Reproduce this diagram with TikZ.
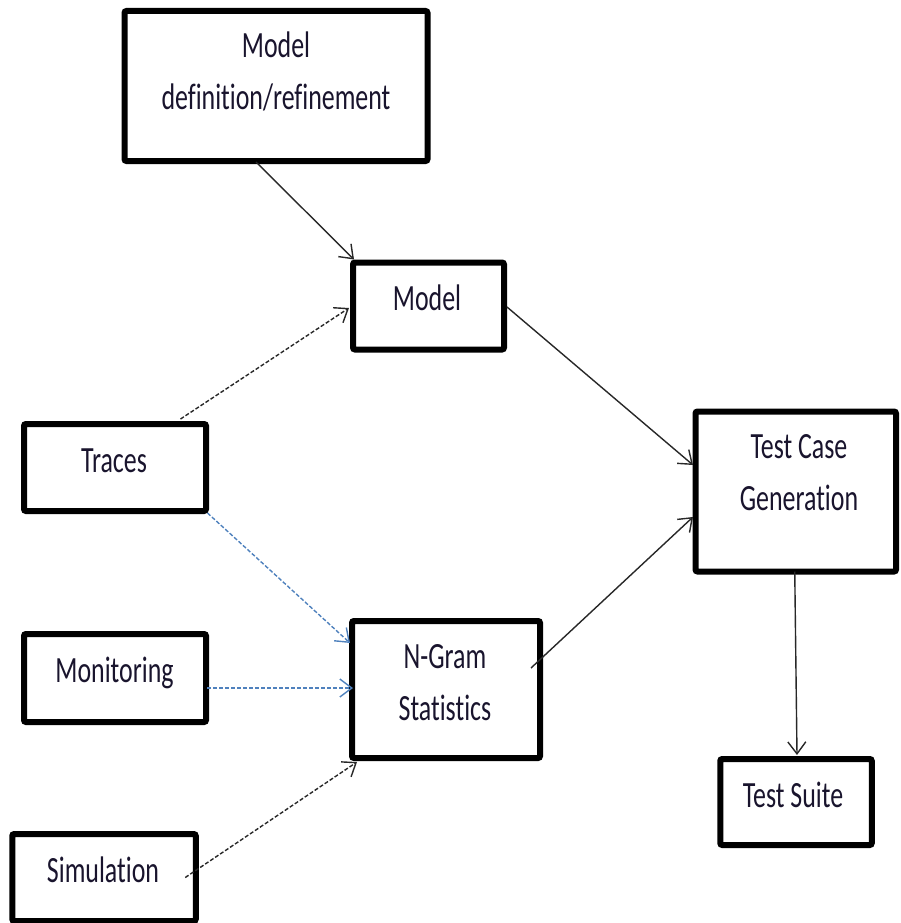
\documentclass[tikz,border=0pt]{standalone}
\usepackage{fontspec}
\usetikzlibrary{arrows.meta,calc}
\newfontfamily\boxfont[FakeStretch=0.70,Ligatures=NoCommon]{Carlito}
\definecolor{flowblue}{RGB}{79,129,189}
\definecolor{flowdark}{RGB}{40,40,40}
\definecolor{labelink}{RGB}{25,20,45}
\tikzset{
  stagebox/.style={draw=black, line width=6pt, rounded corners=2pt,
    rectangle, outer sep=0pt, inner sep=0pt},
  boxlabel/.style={font=\boxfont\fontsize{37}{52}\selectfont, text=labelink,
    inner sep=0pt, outer sep=0pt, align=center, anchor=base},
  flow/.style={draw=flowdark, line width=1.4pt,
    -{Straight Barb[length=12pt,width=18pt,line width=1.4pt]}},
  dataflow/.style={flow, dash pattern=on 4pt off 2pt},
  blueflow/.style={dataflow, draw=flowblue}
}
\begin{document}
\begin{tikzpicture}[x=1pt,y=-1pt]
\useasboundingbox (0,0) rectangle (900,923);

% boxes
\node[stagebox, minimum width=303pt, minimum height=150pt] (mdef) at (276,86) {};
\node[stagebox, minimum width=151pt, minimum height=87pt] (model) at (428.5,306) {};
\node[stagebox, minimum width=182pt, minimum height=87pt] (traces) at (115,467.5) {};
\node[stagebox, minimum width=182pt, minimum height=88pt] (monit) at (115,678) {};
\node[stagebox, minimum width=188pt, minimum height=137pt] (ngram) at (446,689.5) {};
\node[stagebox, minimum width=200.5pt, minimum height=160pt] (tcg) at (795.75,491.5) {};
\node[stagebox, minimum width=151.5pt, minimum height=86pt] (suite) at (796,802) {};
\node[stagebox, minimum width=183.5pt, minimum height=87pt] (sim) at (104,877.5) {};

% labels (base anchor sits on the last line's baseline)
\node[boxlabel] (mdeftxt) at (276,110) {Model\\definition/refinement};
\node[boxlabel] (modeltxt) at (427,310) {Model};
\node[boxlabel] (tracestxt) at (114,472) {Traces};
\node[boxlabel] (monittxt) at (114.5,682) {Monitoring};
\node[boxlabel] (ngramtxt) at (445,720) {N-Gram\\Statistics};
\node[boxlabel] (tcgtxt) at (799,510) {Test Case\\Generation};
\node[boxlabel] (suitetxt) at (793,807) {Test Suite};
\node[boxlabel] (simtxt) at (103,882) {Simulation};

% connectors
\draw[flow] ($(mdef.south)+(-20,1)$) -- ($(model.north west)+(1,-3)$);
\draw[dataflow] ($(traces.north east)+(-25.5,-5)$) -- ($(model.west)+(-4,2)$);
\draw[flow] ($(model.east)+(3,1)$) -- ($(tcg.west)+(-2.5,-26.5)$);
\draw[flow] ($(ngram.east)+(-9,-21.5)$) -- ($(tcg.west)+(-2.5,25.5)$);
\draw[blueflow] ($(traces.south east)+(1.5,2)$) -- ($(ngram.west)+(-2,-46.5)$);
\draw[blueflow] ($(monit.east)+(1,10)$) -- ($(ngram.west)+(1,-1.5)$);
\draw[dataflow] ($(sim.east)+(-10.5,0)$) -- ($(ngram.south west)+(5,4)$);
\draw[flow] ($(tcg.south)+(-1,0)$) -- ($(suite.north)+(1,-4)$);
\end{tikzpicture}
\end{document}
